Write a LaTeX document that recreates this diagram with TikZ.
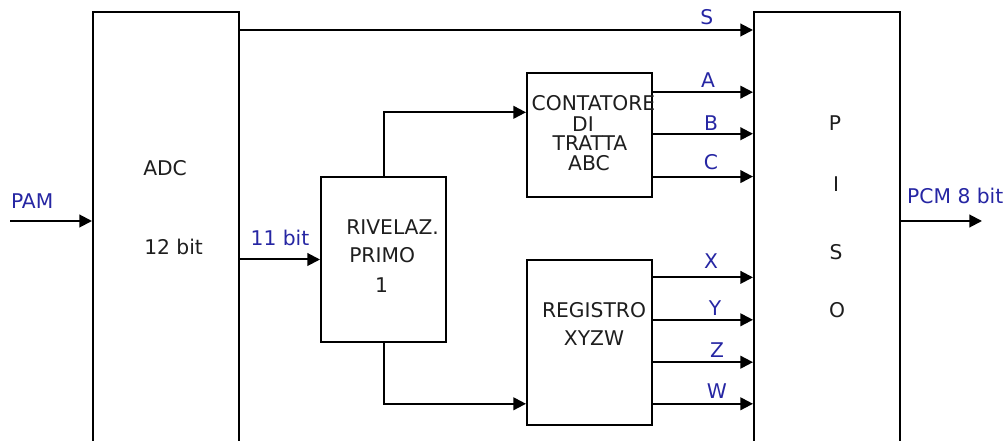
\documentclass[tikz,border=0pt]{standalone}
\usepackage{fontspec}
\setmainfont{DejaVu Sans}
\usetikzlibrary{arrows.meta, calc}
\definecolor{sigblue}{HTML}{2626A3}
\definecolor{inkgray}{HTML}{1E1E1E}
\tikzset{
  % blocco funzionale
  block/.style={draw=black, line width=1.5pt, inner sep=0pt, fill=white},
  % testo dentro i blocchi
  btxt/.style={font=\fontsize{15.2}{18}\selectfont, text=inkgray, inner sep=0pt},
  % linea di segnale con freccia
  sig/.style={line width=1.5pt, -{Triangle[length=9.5pt, width=9.5pt]}},
  % etichetta di un segnale
  lbl/.style={font=\fontsize{15.2}{18}\selectfont, text=sigblue, inner sep=0pt},
}
\begin{document}
\begin{tikzpicture}[x=0.75pt, y=-0.75pt]
  \useasboundingbox (0,0) rectangle (1006,441);
  \clip (0,0) rectangle (1006,441);
  % blocchi
  \node[block, minimum width=109.5pt, minimum height=343.5pt] (adc) at (166,241) {};
  \node[block, minimum width=109.5pt, minimum height=343.5pt] (piso) at (827,241) {};
  \node[block, minimum width=93.75pt, minimum height=123.75pt] (riv) at (383.5,259.5) {};
  \node[block, minimum width=93.75pt, minimum height=93pt] (cont) at (589.5,135) {};
  \node[block, minimum width=93.75pt, minimum height=123.75pt] (reg) at (589.5,342.5) {};
  % testi dei blocchi
  \node[btxt, anchor=west] (adc1) at (143,168) {ADC};
  \node[btxt, anchor=west] (adc2) at (144,247) {12 bit};
  \node[btxt, anchor=west] (riv1) at (346,227) {RIVELAZ.};
  \node[btxt, anchor=west] (riv2) at (349,255) {PRIMO};
  \node[btxt] (riv3) at (381.5,285) {1};
  \node[btxt] (cont1) at (593.5,103) {CONTATORE};
  \node[btxt] (cont2) at (583,124) {DI};
  \node[btxt] (cont3) at (590,143) {TRATTA};
  \node[btxt] (cont4) at (589,163) {ABC};
  \node[btxt] (reg1) at (594,310) {REGISTRO};
  \node[btxt] (reg2) at (594,338) {XYZW};
  \node[btxt] (piso1) at (835,123) {P};
  \node[btxt] (piso2) at (836,184) {I};
  \node[btxt] (piso3) at (836,252) {S};
  \node[btxt] (piso4) at (837,310) {O};
  % ingresso e uscita
  \coordinate (pam) at (10,221);
  \coordinate (pcm) at (982,221);
  \draw[sig] (pam) -- node[lbl, pos=.27, above=8.8pt] {PAM} (adc.west |- pam);
  \draw[sig] (piso.east |- pcm) -- node[lbl, pos=.67, above=12.5pt] {PCM 8 bit} (pcm);
  % segnali interni
  \draw[sig] ($(adc.north east)+(0,19)$) coordinate (oS)
    -- node[lbl, pos=.91, above=3.5pt] {S} (piso.west |- oS);
  \draw[sig] (adc.east |- riv.west) -- node[lbl, above=9.5pt] {11 bit} (riv.west);
  \draw[sig] (riv.north) |- ($(cont.north west)!0.32!(cont.south west)$);
  \draw[sig] (riv.south) |- ($(reg.north west)!0.867!(reg.south west)$);
  \foreach \f/\t/\p/\d in {0.16/A/.55/2.8pt, 0.49/B/.58/2pt, 0.83/C/.58/4.3pt}
    \draw[sig] ($(cont.north east)!\f!(cont.south east)$) coordinate (o\t)
      -- node[lbl, pos=\p, above=\d] {\t} (piso.west |- o\t);
  \foreach \f/\t/\p/\d in {0.11/X/.58/5.8pt, 0.364/Y/.62/2.8pt, 0.618/Z/.64/2.8pt, 0.867/W/.64/3.5pt}
    \draw[sig] ($(reg.north east)!\f!(reg.south east)$) coordinate (o\t)
      -- node[lbl, pos=\p, above=\d] {\t} (piso.west |- o\t);
\end{tikzpicture}
\end{document}
